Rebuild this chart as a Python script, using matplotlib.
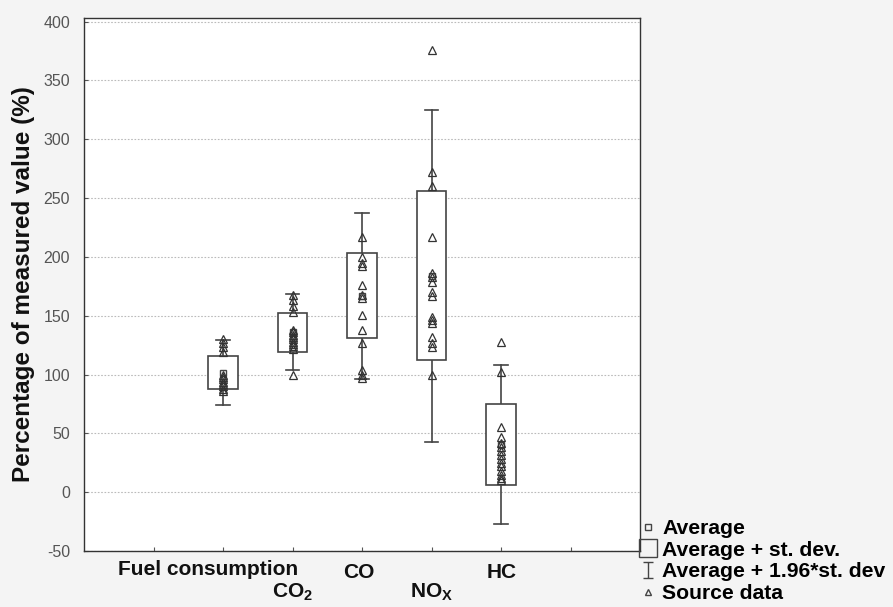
import matplotlib
matplotlib.use("Agg")
import matplotlib.pyplot as plt
from matplotlib.lines import Line2D
from matplotlib.path import Path

plt.rcParams['font.family'] = ['Liberation Sans', 'DejaVu Sans']
plt.rcParams['mathtext.fontset'] = 'custom'
plt.rcParams['mathtext.bf'] = 'Liberation Sans:bold'
plt.rcParams['mathtext.rm'] = 'Liberation Sans:bold'

# ---- data ----
categories = ['Fuel consumption', r'CO$_\mathbf{2}$', 'CO', r'NO$_\mathbf{X}$', 'HC']
positions = [2, 3, 4, 5, 6]
means = [101.5, 136.0, 167.0, 184.0, 40.5]
sds = [14.2, 16.6, 36.0, 72.0, 34.5]

fuel_data = [130, 127, 123, 119, 100, 98, 96, 94, 92, 90, 88, 86]
co2_data = [168, 163, 158, 153, 138, 136, 134, 132, 130, 128, 126, 124, 122, 100]
co_data = [217, 200, 195, 192, 176, 168, 165, 151, 138, 127, 104, 100, 97]
nox_data = [376, 272, 260, 217, 186, 183, 179, 170, 167, 149, 146, 144, 132, 127, 123, 100]
hc_data = [128, 102, 55, 47, 42, 38, 35, 32, 28, 25, 22, 18, 15, 12, 10]
source_data = [fuel_data, co2_data, co_data, nox_data, hc_data]

yticks = [-50, 0, 50, 100, 150, 200, 250, 300, 350, 400]
ylabel = 'Percentage of measured value (%)'
legend_labels = ['Average', 'Average + st. dev.', 'Average + 1.96*st. dev', 'Source data']

# ---- figure ----
fig = plt.figure(figsize=(8.93, 6.07), dpi=100, facecolor='#f4f4f4')
ax = fig.add_axes([84/893, 1-551/607, (640-84)/893, (551-18)/607])
ax.set_facecolor('white')

lc = '#444444'
box_w = 0.42
cap_w = 0.10
for x, m, s, pts in zip(positions, means, sds, source_data):
    lo_w, hi_w = m - 1.96*s, m + 1.96*s
    lo_b, hi_b = m - s, m + s
    ax.plot([x, x], [lo_w, lo_b], color=lc, lw=1.2, zorder=2)
    ax.plot([x, x], [hi_b, hi_w], color=lc, lw=1.2, zorder=2)
    ax.plot([x-cap_w, x+cap_w], [lo_w, lo_w], color=lc, lw=1.2, zorder=2)
    ax.plot([x-cap_w, x+cap_w], [hi_w, hi_w], color=lc, lw=1.2, zorder=2)
    ax.add_patch(plt.Rectangle((x-box_w/2, lo_b), box_w, hi_b-lo_b,
                               fill=True, facecolor='white', edgecolor=lc, lw=1.2, zorder=3))
    ax.plot([x], [m], marker='s', ms=4, mfc='none', mec=lc, ls='none', zorder=4)
    ax.plot([x]*len(pts), pts, marker='^', ms=5.5, mfc='none', mec='#333333',
            mew=0.9, ls='none', zorder=5)

ax.set_xlim(0, 8)
ax.set_ylim(-50, 403)
ax.set_yticks(yticks)
ax.set_yticklabels([str(v) for v in yticks], color='#555555', fontsize=11.5)
ax.set_xticks([1, 2, 3, 4, 5, 6, 7])
ax.set_xticklabels([])
ax.tick_params(axis='x', direction='in', length=3, color='#555555')
ax.tick_params(axis='y', direction='in', length=3, color='#555555', pad=10)
ax.grid(axis='y', color='#bbbbbb', linestyle=(0, (1.5, 1.5)), lw=0.8)
ax.set_axisbelow(True)
for sp in ax.spines.values():
    sp.set_color('#333333')
    sp.set_linewidth(1.0)

ax.set_ylabel(ylabel, fontsize=17.5, fontweight='bold', color='#111111', labelpad=6)

# category labels, staggered (baseline offsets below the axis, in pixels)
trans = ax.get_xaxis_transform()
offsets_px = [-15, 0, -3, 0, 1]
baseline_px = [24, 46, 27, 46, 27]
for i, (x, lab) in enumerate(zip(positions, categories)):
    ax.annotate(lab, xy=(x, 0), xycoords=trans,
                xytext=(offsets_px[i]*0.72, -baseline_px[i]*0.72),
                textcoords='offset points', ha='center', va='baseline',
                fontsize=15, fontweight='bold', color='#111111', annotation_clip=False)

# legend
ibeam = Path([(-0.6, 1), (0.6, 1), (0, 1), (0, -1), (-0.6, -1), (0.6, -1)],
             [Path.MOVETO, Path.LINETO, Path.MOVETO, Path.LINETO, Path.MOVETO, Path.LINETO])
handles = [
    Line2D([], [], marker='s', ms=5, mfc='none', mec=lc, ls='none'),
    Line2D([], [], marker='s', ms=13, mfc='none', mec=lc, ls='none', mew=1.0),
    Line2D([], [], marker=ibeam, ms=12, mfc='none', mec=lc, ls='none', mew=1.0),
    Line2D([], [], marker='^', ms=5, mfc='none', mec=lc, ls='none'),
]
fig.legend(handles, legend_labels, loc='upper left', bbox_to_anchor=(640/893, 1-519/607),
           frameon=False, handlelength=0.75, handletextpad=0.3, labelspacing=0.13,
           borderaxespad=0, borderpad=0,
           prop={'family': 'Liberation Sans', 'weight': 'bold', 'size': 15.2})

fig.savefig('out.png', dpi=100, facecolor=fig.get_facecolor())
